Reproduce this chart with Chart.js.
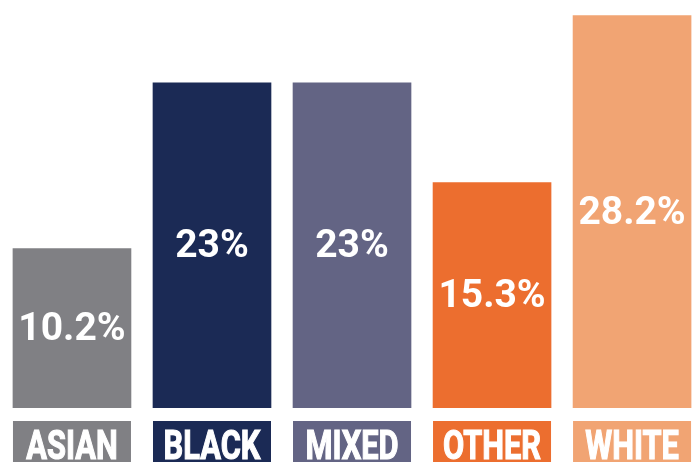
<!DOCTYPE html>
<html>
<head>
<meta charset="utf-8">
<script src="https://cdn.jsdelivr.net/npm/chart.js@4"></script>
<style>
  html, body { margin: 0; padding: 0; background: #ffffff; }
  #wrap { width: 698px; height: 462px; }
</style>
</head>
<body>
<div id="wrap"><canvas id="grafico"></canvas></div>
<script>
// Dados do gráfico
const categorias = ['ASIAN', 'BLACK', 'MIXED', 'OTHER', 'WHITE'];
const valores = [10.2, 23, 23, 15.3, 28.2];
const rotulosValores = ['10.2%', '23%', '23%', '15.3%', '28.2%'];
const cores = ['#808084', '#1b2a55', '#636484', '#ec6e2f', '#f1a473'];

// Plugin que escreve o valor no meio de cada barra
const pluginValores = {
  id: 'valores',
  afterDatasetsDraw(chart) {
    const ctx = chart.ctx;
    const meta = chart.getDatasetMeta(0);
    ctx.save();
    ctx.fillStyle = '#ffffff';
    ctx.font = 'bold 39px Roboto';
    ctx.textAlign = 'center';
    ctx.textBaseline = 'middle';
    meta.data.forEach((barra, i) => {
      ctx.fillText(rotulosValores[i], barra.x, (barra.y + barra.base) / 2 + 2);
    });
    ctx.restore();
  }
};

// Plugin que desenha as caixas coloridas com as categorias
const pluginCategorias = {
  id: 'categorias',
  afterDraw(chart) {
    const ctx = chart.ctx;
    const meta = chart.getDatasetMeta(0);
    const topo = chart.chartArea.bottom + 13;
    ctx.save();
    meta.data.forEach((barra, i) => {
      const largura = barra.width;
      ctx.fillStyle = cores[i];
      ctx.fillRect(barra.x - largura / 2, topo, largura, chart.height - topo);
      ctx.save();
      ctx.translate(barra.x, topo + 28);
      ctx.scale(0.77, 1);
      ctx.fillStyle = '#ffffff';
      ctx.strokeStyle = '#ffffff';
      ctx.lineWidth = 1.2;
      ctx.font = 'bold 40px Roboto';
      ctx.textAlign = 'center';
      ctx.textBaseline = 'middle';
      ctx.fillText(categorias[i], 0, 0);
      ctx.strokeText(categorias[i], 0, 0); // engrossa um pouco o traço
      ctx.restore();
    });
    ctx.restore();
  }
};

new Chart(document.getElementById('grafico').getContext('2d'), {
  type: 'bar',
  data: {
    datasets: [{
      data: valores.map((v, i) => ({ x: i, y: v })),
      backgroundColor: cores,
      borderWidth: 0,
      base: -2.1,
      barThickness: 118
    }]
  },
  options: {
    responsive: true,
    maintainAspectRatio: false,
    animation: false,
    layout: { padding: { left: 0, right: 0, top: 0, bottom: 54 } },
    scales: {
      x: { type: 'linear', display: false, offset: false, min: -0.514, max: 4.471 },
      y: { display: false, min: -2.1, max: 29.4 }
    },
    plugins: {
      legend: { display: false },
      tooltip: { enabled: false }
    }
  },
  plugins: [pluginValores, pluginCategorias]
});
</script>
</body>
</html>
